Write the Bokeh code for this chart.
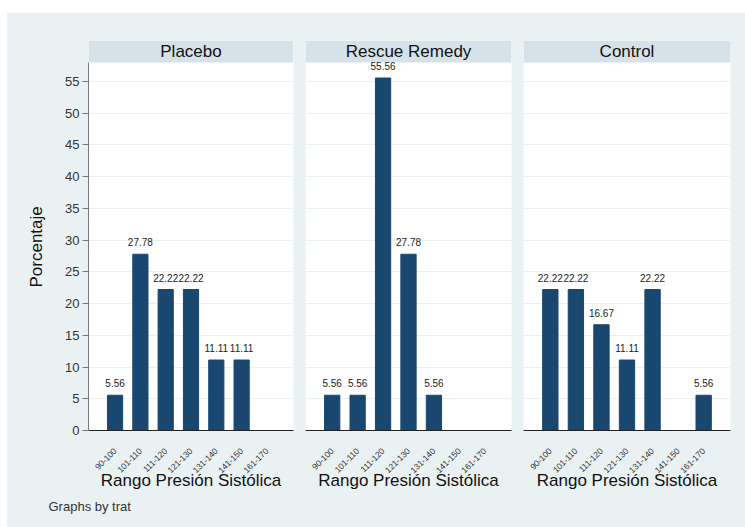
import math

from bokeh.core.properties import value
from bokeh.embed import file_html
from bokeh.layouts import row
from bokeh.models import (BoxAnnotation, ColumnDataSource, FixedTicker, Label,
                          LabelSet, Range1d, Title)
from bokeh.plotting import figure
from bokeh.resources import INLINE

# Systolic pressure ranges (x categories)
rangos = ["90-100", "101-110", "111-120", "121-130", "131-140", "141-150", "161-170"]

# Percentage of subjects per range, by treatment group (None = no subjects)
placebo = [5.56, 27.78, 22.22, 22.22, 11.11, 11.11, None]
rescue_remedy = [5.56, 5.56, 55.56, 27.78, 5.56, None, None]
control = [22.22, 22.22, 16.67, 11.11, 22.22, None, 5.56]

grupos = ["Placebo", "Rescue Remedy", "Control"]
y_ticks = [0, 5, 10, 15, 20, 25, 30, 35, 40, 45, 50, 55]

FONT = "Liberation Sans"
OUTER = "#eaf1f3"
STRIP = "#d6e2e9"
BAR = "#1a476f"

PAD = 1.05        # space from the outer bars to the panel edge, in category widths
Y_TOP = 58.0      # top of the plotting region
Y_STRIP = 61.47   # top of the group header strip


def panel(nombre, valores, width, border_left, border_right, show_y):
    # category i is drawn at x = i
    pos = [i for i, v in enumerate(valores) if v is not None]
    vals = [v for v in valores if v is not None]
    src = ColumnDataSource(dict(x=pos, pct=vals,
                                txt=[f"{v:.2f}" for v in vals]))

    p = figure(
        x_range=Range1d(-PAD, len(rangos) - 1 + PAD),
        y_range=Range1d(0, Y_STRIP),
        width=width, height=514,
        min_border_left=border_left, min_border_right=border_right,
        min_border_top=27, min_border_bottom=97,
        output_backend="svg", toolbar_location=None,
    )
    p.background_fill_color = "white"
    p.border_fill_color = OUTER
    p.outline_line_color = None

    p.vbar(x="x", top="pct", width=0.6, source=src,
           fill_color=BAR, line_color=BAR)

    # value above each bar
    p.add_layout(LabelSet(x="x", y="pct", text="txt", source=src,
                          text_align="center", text_baseline="alphabetic",
                          y_offset=8, text_font_size="10px",
                          text_font=value(FONT), text_color="#222"))

    # group header strip across the top of the panel
    p.add_layout(BoxAnnotation(bottom=Y_TOP, fill_color=STRIP, fill_alpha=1,
                               line_color=None, level="underlay"))
    p.add_layout(Label(x=(len(rangos) - 1) / 2, y=(Y_TOP + Y_STRIP) / 2,
                       text=nombre, text_align="center",
                       text_baseline="middle", text_font=FONT,
                       text_font_size="17px", text_color="#111"))

    xa = p.xaxis[0]
    xa.ticker = FixedTicker(ticks=list(range(len(rangos))))
    xa.major_label_overrides = {i: r for i, r in enumerate(rangos)}
    xa.axis_label = "Rango Presión Sistólica"
    xa.axis_label_text_font = FONT
    xa.axis_label_text_font_size = "17px"
    xa.axis_label_text_font_style = "normal"
    xa.axis_label_text_color = "#111"
    xa.axis_label_standoff = -8
    xa.axis_line_color = "#222"
    xa.major_tick_line_color = None
    xa.minor_tick_line_color = None
    xa.major_label_orientation = math.pi / 4
    xa.major_label_standoff = 13
    xa.major_label_text_font = FONT
    xa.major_label_text_font_size = "8.5px"
    xa.major_label_text_color = "#333"

    p.xgrid.visible = False
    p.ygrid.grid_line_color = OUTER
    p.yaxis.ticker = FixedTicker(ticks=y_ticks)

    ya = p.yaxis[0]
    ya.bounds = (0, Y_TOP)
    if show_y:
        ya.axis_line_color = "#777"
        ya.major_tick_line_color = "#777"
        ya.major_tick_out = 6
        ya.major_tick_in = 0
        ya.minor_tick_line_color = None
        ya.major_label_standoff = 3
        ya.major_label_text_font = FONT
        ya.major_label_text_font_size = "13px"
        ya.major_label_text_color = "#333"
        # y axis title, centred on the plotting region below the strip
        p.add_layout(Title(text="Porcentaje", align="left", offset=143,
                           text_font=FONT, text_font_size="17px",
                           text_font_style="normal", text_color="#111",
                           standoff=34), "left")
    else:
        ya.visible = False
    return p


p1 = panel(grupos[0], placebo, 292, 81, 6, True)
p2 = panel(grupos[1], rescue_remedy, 218, 6, 6, False)
p3 = panel(grupos[2], control, 228, 6, 15, False)

p1.add_layout(Title(text="Graphs by trat", align="left", offset=-40,
                    text_font=FONT, text_font_size="13px",
                    text_font_style="normal", text_color="#333",
                    standoff=8), "below")

p = row(p1, p2, p3, spacing=0, margin=(13, 0, 0, 7),
        styles={"background-color": OUTER})

with open("out.html", "w") as f:
    f.write(file_html(p, INLINE))
